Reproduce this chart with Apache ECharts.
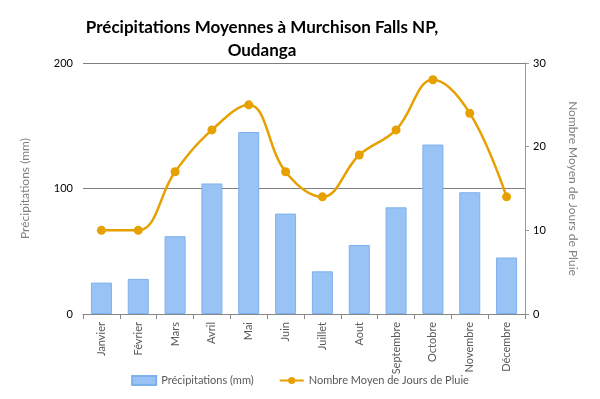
<!DOCTYPE html>
<html>
<head>
<meta charset="utf-8">
<script src="https://cdn.jsdelivr.net/npm/echarts@6/dist/echarts.min.js"></script>
<style>
  html, body { margin: 0; padding: 0; background: #fff; }
  #chart { width: 600px; height: 399px; }
</style>
</head>
<body>
<div id="chart"></div>
<script>
const months = ['Janvier', 'Février', 'Mars', 'Avril', 'Mai', 'Juin', 'Juillet', 'Aout', 'Septembre', 'Octobre', 'Novembre', 'Décembre'];
const precipitation = [25, 28, 62, 104, 145, 80, 34, 55, 85, 135, 97, 45];
const rainyDays = [10, 10, 17, 22, 25, 17, 14, 19, 22, 28, 24, 14];

const font = 'Lato';
const chart = echarts.init(document.getElementById('chart'));

const options = {
  animation: false,
  title: {
    text: 'Précipitations Moyennes à Murchison Falls NP,\nOudanga',
    left: 257,
    top: 11,
    textAlign: 'center',
    textStyle: {
      fontFamily: font,
      fontSize: 17,
      fontWeight: 'bold',
      color: '#000',
      lineHeight: 23
    }
  },
  legend: {
    bottom: 8,
    itemGap: 25,
    itemWidth: 24,
    itemHeight: 9,
    textStyle: { fontFamily: font, fontSize: 11, color: '#595959' },
    data: [
      { name: 'Précipitations (mm)', icon: 'rect' },
      { name: 'Nombre Moyen de Jours de Pluie' }
    ]
  },
  grid: { left: 83, right: 75, top: 63, bottom: 85 },
  xAxis: {
    type: 'category',
    data: months,
    axisLine: { show: true, lineStyle: { color: '#888' } },
    axisTick: { show: true, length: 5, lineStyle: { color: '#888' } },
    axisLabel: {
      rotate: 90,
      interval: 0,
      margin: 8,
      color: '#595959',
      fontFamily: font,
      fontSize: 11
    }
  },
  yAxis: [
    {
      type: 'value',
      min: 0,
      max: 200,
      interval: 100,
      name: 'Précipitations (mm)',
      nameLocation: 'middle',
      nameGap: 52,
      nameRotate: 90,
      nameTextStyle: { fontFamily: font, fontSize: 12, color: '#7f7f7f' },
      axisLine: { show: false },
      axisTick: { show: false },
      axisLabel: { color: '#000', fontFamily: font, fontSize: 11, margin: 10 },
      splitLine: { show: true, lineStyle: { color: '#808080', width: 1 } }
    },
    {
      type: 'value',
      min: 0,
      max: 30,
      interval: 10,
      name: 'Nombre Moyen de Jours de Pluie',
      nameLocation: 'middle',
      nameGap: 42,
      nameRotate: -90,
      nameTextStyle: { fontFamily: font, fontSize: 12, color: '#7f7f7f' },
      axisLine: { show: true, lineStyle: { color: '#999' } },
      axisTick: { show: true, length: 4, lineStyle: { color: '#999' } },
      axisLabel: { color: '#000', fontFamily: font, fontSize: 11, margin: 8 },
      splitLine: { show: false }
    }
  ],
  series: [
    {
      name: 'Précipitations (mm)',
      type: 'bar',
      data: precipitation,
      barWidth: 21,
      itemStyle: {
        color: '#99C3F5',
        borderColor: '#7DB0EE',
        borderWidth: 1
      }
    },
    {
      name: 'Nombre Moyen de Jours de Pluie',
      type: 'line',
      yAxisIndex: 1,
      data: rainyDays,
      smooth: 0.4,
      symbol: 'circle',
      symbolSize: 9,
      lineStyle: { color: '#E6A000', width: 2.5 },
      itemStyle: { color: '#E6A000' }
    }
  ]
};

chart.setOption(options);
</script>
</body>
</html>
